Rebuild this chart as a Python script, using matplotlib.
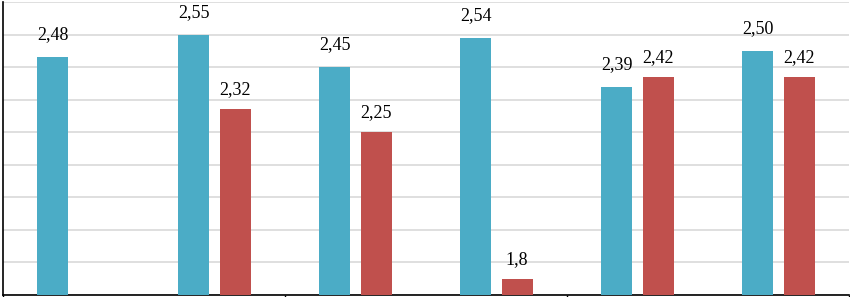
import numpy as np
import matplotlib.pyplot as plt

# Data (first group has no second-series bar)
groups = ['1', '2', '3', '4', '5', '6']
series_a = [2.48, 2.55, 2.45, 2.54, 2.39, 2.50]
series_b = [np.nan, 2.32, 2.25, 1.8, 2.42, 2.42]
labels_a = ['2,48', '2,55', '2,45', '2,54', '2,39', '2,50']
labels_b = ['', '2,32', '2,25', '1,8', '2,42', '2,42']

BLUE = '#4BACC6'
RED = '#C0504D'

fig = plt.figure(figsize=(8.5, 2.97), dpi=100)
ax = fig.add_axes([3 / 850, 2 / 297, 846 / 850, 293 / 297])

x = np.arange(len(groups))
width = 0.22
offset = 0.146

ax.bar(x - offset, series_a, width, color=BLUE, bottom=0, zorder=3)
ax.bar(x + offset, series_b, width, color=RED, zorder=3)

# Value labels above the bars
for xi, v, lab in zip(x, series_a, labels_a):
    ax.annotate(lab, (xi - offset, v), xytext=(0, 10), textcoords='offset points',
                ha='center', va='bottom', fontsize=13, family='Liberation Serif')
for xi, v, lab in zip(x, series_b, labels_b):
    if np.isnan(v):
        continue
    ax.annotate(lab, (xi + offset, v), xytext=(0, 8), textcoords='offset points',
                ha='center', va='bottom', fontsize=13, family='Liberation Serif')

ax.set_ylim(1.75, 2.65)
ax.set_xlim(-0.5, len(groups) - 0.5)
ax.set_yticks(np.arange(1.75, 2.66, 0.1))
ax.yaxis.grid(True, color='#D9D9D9', linewidth=1.2, zorder=0)
ax.set_axisbelow(True)
ax.tick_params(axis='y', left=False, labelleft=False)

# Category boundary tick marks on the x axis
ax.set_xticks([-0.5, 1.5, 3.5, 5.5])
ax.tick_params(axis='x', direction='out', length=6, width=1, labelbottom=False)

for side in ['top', 'right']:
    ax.spines[side].set_visible(False)
ax.spines['left'].set_linewidth(1.2)
ax.spines['bottom'].set_linewidth(1.2)

fig.savefig('out.png', dpi=100)
